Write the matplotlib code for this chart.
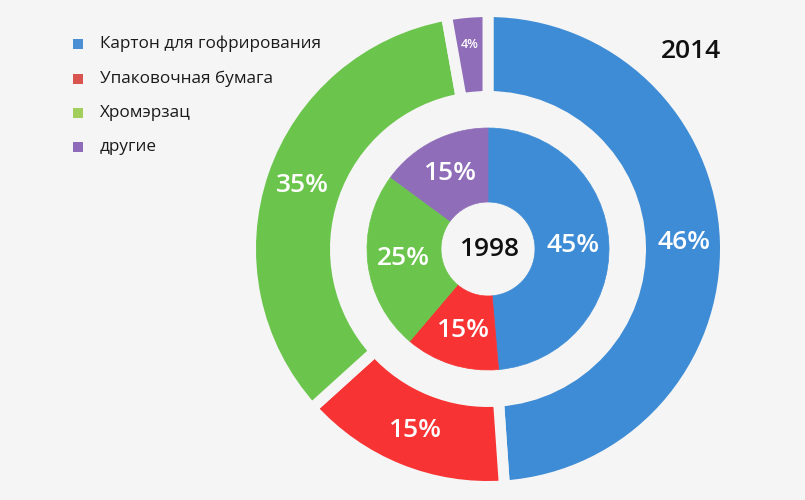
import numpy as np
import matplotlib.pyplot as plt
from matplotlib.patches import Rectangle

plt.rcParams['font.family'] = ['Open Sans', 'DejaVu Sans']

# categories and colours
categories = ['Картон для гофрирования', 'Упаковочная бумага', 'Хромэрзац', 'другие']
ring_colors = ['#3e8cd5', '#f83333', '#6bc54c', '#8f6db8']
legend_colors = ['#4a8fd4', '#d9534f', '#a2cf5c', '#8e6bb8']

# 2014 (outer ring): wedge shares as drawn, and printed labels
outer_sizes = [48.9, 14.4, 33.9, 2.8]
outer_labels = ['46%', '15%', '35%', '4%']

# 1998 (inner ring)
inner_sizes = [48.6, 12.6, 23.9, 14.9]
inner_labels = ['45%', '15%', '25%', '15%']

bg = '#f5f5f5'

fig = plt.figure(figsize=(8.05, 5), dpi=100, facecolor=bg)
ax = fig.add_axes([0, 0, 1, 1])
ax.set_facecolor(bg)

cx, cy = 488, 251

# outer ring, gaps made with thick background-coloured edges
ax.pie(outer_sizes, colors=ring_colors, startangle=90, counterclock=False,
       center=(cx, cy), radius=237.5,
       wedgeprops=dict(width=85, edgecolor=bg, linewidth=7.9))

# inner ring
wedges, _ = ax.pie(inner_sizes, colors=ring_colors, startangle=90, counterclock=False,
                   center=(cx, cy), radius=121,
                   wedgeprops=dict(width=74, linewidth=0.5))
for w in wedges:
    w.set_edgecolor(w.get_facecolor())


def mid_angles(sizes):
    s = np.array(sizes, dtype=float)
    frac = (np.cumsum(s) - s / 2) / s.sum()
    return np.deg2rad(90 - 360 * frac)


# percentage labels
for ang, lab in zip(mid_angles(outer_sizes), outer_labels):
    small = lab == '4%'
    r = 205 if small else 196
    ax.text(cx + r * np.cos(ang), cy + r * np.sin(ang), lab,
            ha='center', va='center', color='white', fontweight='semibold',
            fontsize=9 if small else 19)

for ang, lab in zip(mid_angles(inner_sizes), inner_labels):
    r = 85
    ax.text(cx + r * np.cos(ang), cy + r * np.sin(ang), lab,
            ha='center', va='center', color='white', fontweight='semibold', fontsize=19)

ax.text(cx + 1, cy - 1, '1998', ha='center', va='center', color='#111111',
        fontweight='semibold', fontsize=19)
ax.text(691, 448, '2014', ha='center', va='center', color='#111111',
        fontweight='semibold', fontsize=19)

# legend drawn by hand
leg_y = [456, 421, 387, 353]
for y, name, col in zip(leg_y, categories, legend_colors):
    ax.add_patch(Rectangle((73, y - 5), 10, 10, color=col, lw=0))
    ax.text(100, y, name, ha='left', va='center', color='#1a1a1a', fontsize=12.3)

ax.set_xlim(0, 805)
ax.set_ylim(0, 500)
ax.set_aspect('equal')
ax.axis('off')

fig.savefig('out.png', dpi=100, facecolor=bg)
